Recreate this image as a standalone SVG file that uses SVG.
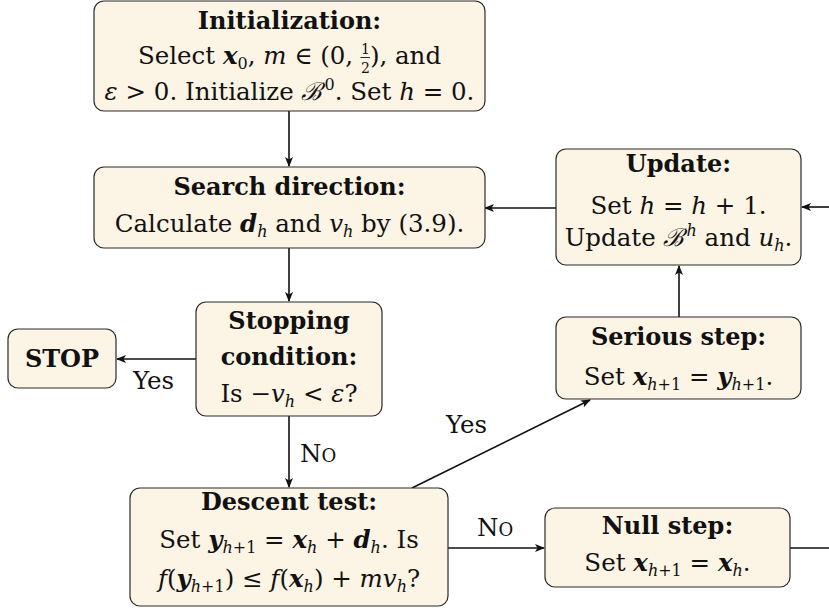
<svg xmlns="http://www.w3.org/2000/svg" width="829" height="610" viewBox="0 0 829 610">
<style>
.box{fill:#fcf4e4;stroke:#2a2a2a;stroke-width:1.2}
text{font-family:'DejaVu Serif',serif;font-size:24.5px;fill:#111;text-anchor:middle}
.t{font-weight:bold;font-size:24px}
.m{font-style:italic}
.v{font-style:italic;font-weight:bold}
.s{font-size:16px}
.f{font-size:14px}
.lbl{text-anchor:start}
.c{stroke:#111;stroke-width:1.6;fill:none}
</style>
<defs>
<marker id="ah" viewBox="0 0 10 10" refX="9" refY="5" markerWidth="10" markerHeight="10" markerUnits="userSpaceOnUse" orient="auto">
<path d="M0,1 L10,5 L0,9 L2.5,5 Z" fill="#111"/>
</marker>
</defs>
<rect width="829" height="610" fill="#fff"/>
<g id="connectors">
<line class="c" x1="289" y1="111" x2="289" y2="166" marker-end="url(#ah)"/>
<line class="c" x1="289" y1="248" x2="289" y2="301" marker-end="url(#ah)"/>
<line class="c" x1="196" y1="359" x2="117" y2="359" marker-end="url(#ah)"/>
<line class="c" x1="289" y1="416" x2="289" y2="487" marker-end="url(#ah)"/>
<line class="c" x1="412" y1="488" x2="590" y2="400" marker-end="url(#ah)"/>
<line class="c" x1="448" y1="548" x2="544" y2="548" marker-end="url(#ah)"/>
<line class="c" x1="790" y1="548" x2="829" y2="548"/>
<line class="c" x1="829" y1="207" x2="802" y2="207" marker-end="url(#ah)"/>
<line class="c" x1="679" y1="317" x2="679" y2="266" marker-end="url(#ah)"/>
<line class="c" x1="556" y1="208" x2="485" y2="208" marker-end="url(#ah)"/>
<text class="lbl" x="133" y="389">Yes</text>
<text class="lbl" x="300" y="462">N<tspan font-size="18">O</tspan></text>
<text class="lbl" x="446" y="433">Yes</text>
<text class="lbl" x="477" y="536">N<tspan font-size="18">O</tspan></text>
</g>
<g id="init">
<rect class="box" x="94" y="1" width="391" height="110" rx="10"/>
<text class="t" x="289.5" y="29">Initialization:</text>
<text x="289.5" y="64">Select <tspan class="v">x</tspan><tspan class="s" dy="5">0</tspan><tspan dy="-5">, </tspan><tspan class="m">m</tspan> ∈ (0, <tspan class="f" dy="-10">1</tspan><tspan class="f" dx="-8.9" dy="19">2</tspan><tspan dy="-9">), and</tspan></text>
<line x1="360.5" y1="57.5" x2="370" y2="57.5" stroke="#111" stroke-width="0.9"/>
<text x="289.5" y="100"><tspan class="m">ε</tspan> &gt; 0.  Initialize <tspan class="m">ℬ</tspan><tspan class="s" dx="2" dy="-10">0</tspan><tspan dy="10">.  Set </tspan><tspan class="m">h</tspan> = 0.</text>
</g>
<g id="search">
<rect class="box" x="94" y="167" width="391" height="81" rx="10"/>
<text class="t" x="289.5" y="195">Search direction:</text>
<text x="289.5" y="232">Calculate <tspan class="v">d</tspan><tspan class="s m" dy="5">h</tspan><tspan dy="-5"> and </tspan><tspan class="m">v</tspan><tspan class="s m" dy="5">h</tspan><tspan dy="-5"> by (3.9).</tspan></text>
</g>
<g id="update">
<rect class="box" x="556" y="149" width="245" height="116" rx="10"/>
<text class="t" x="678.5" y="172">Update:</text>
<text x="678.5" y="214">Set <tspan class="m">h</tspan> = <tspan class="m">h</tspan> + 1.</text>
<text x="678.5" y="246">Update <tspan class="m">ℬ</tspan><tspan class="s m" dx="2" dy="-10">h</tspan><tspan dy="10"> and </tspan><tspan class="m">u</tspan><tspan class="s m" dy="5">h</tspan><tspan dy="-5">.</tspan></text>
</g>
<g id="stopping">
<rect class="box" x="196" y="302" width="186" height="114" rx="10"/>
<text class="t" x="289" y="329">Stopping</text>
<text class="t" x="289" y="365">condition:</text>
<text x="289" y="402">Is −<tspan class="m">v</tspan><tspan class="s m" dy="5">h</tspan><tspan dy="-5"> &lt; </tspan><tspan class="m">ε</tspan>?</text>
</g>
<g id="stop">
<rect class="box" x="8" y="329" width="108" height="59" rx="10"/>
<text class="t" x="62" y="367">STOP</text>
</g>
<g id="serious">
<rect class="box" x="556" y="317" width="245" height="82" rx="10"/>
<text class="t" x="678.5" y="345">Serious step:</text>
<text x="678.5" y="385">Set <tspan class="v">x</tspan><tspan class="s m" dy="5">h</tspan><tspan class="s">+1</tspan><tspan dy="-5"> = </tspan><tspan class="v">y</tspan><tspan class="s m" dy="5">h</tspan><tspan class="s">+1</tspan><tspan dy="-5">.</tspan></text>
</g>
<g id="descent">
<rect class="box" x="130" y="488" width="318" height="118" rx="10"/>
<text class="t" x="289" y="510">Descent test:</text>
<text x="289" y="548">Set <tspan class="v">y</tspan><tspan class="s m" dy="5">h</tspan><tspan class="s">+1</tspan><tspan dy="-5"> = </tspan><tspan class="v">x</tspan><tspan class="s m" dy="5">h</tspan><tspan dy="-5"> + </tspan><tspan class="v">d</tspan><tspan class="s m" dy="5">h</tspan><tspan dy="-5">.  Is</tspan></text>
<text x="289" y="587"><tspan class="m">f</tspan>(<tspan class="v">y</tspan><tspan class="s m" dy="5">h</tspan><tspan class="s">+1</tspan><tspan dy="-5">) ≤ </tspan><tspan class="m">f</tspan>(<tspan class="v">x</tspan><tspan class="s m" dy="5">h</tspan><tspan dy="-5">) + </tspan><tspan class="m">mv</tspan><tspan class="s m" dy="5">h</tspan><tspan dy="-5">?</tspan></text>
</g>
<g id="null">
<rect class="box" x="545" y="508" width="245" height="79" rx="10"/>
<text class="t" x="667.5" y="534">Null step:</text>
<text x="667.5" y="571">Set <tspan class="v">x</tspan><tspan class="s m" dy="5">h</tspan><tspan class="s">+1</tspan><tspan dy="-5"> = </tspan><tspan class="v">x</tspan><tspan class="s m" dy="5">h</tspan><tspan dy="-5">.</tspan></text>
</g>
</svg>
